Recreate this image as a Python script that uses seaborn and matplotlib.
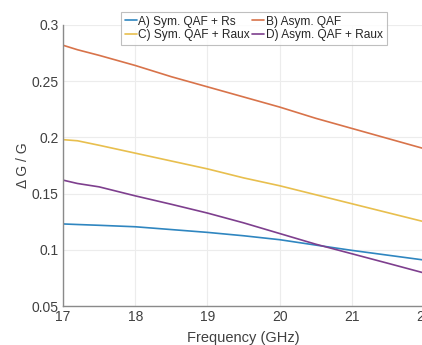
import pandas as pd
import matplotlib
matplotlib.use("Agg")
import matplotlib.pyplot as plt
import seaborn as sns

# ======================================
#           DATA
# ======================================
freq = [17, 17.2, 17.5, 18, 18.5, 19, 19.5, 20, 20.5, 21, 21.5, 22]

sym_rs = [0.123, 0.1225, 0.1218, 0.1205, 0.118, 0.1155, 0.1125, 0.109, 0.1042, 0.0995, 0.0952, 0.0909]
asym = [0.282, 0.278, 0.273, 0.264, 0.254, 0.245, 0.236, 0.227, 0.217, 0.208, 0.199, 0.190]
sym_raux = [0.198, 0.197, 0.193, 0.186, 0.179, 0.172, 0.164, 0.157, 0.149, 0.141, 0.133, 0.125]
asym_raux = [0.162, 0.159, 0.156, 0.148, 0.1405, 0.1327, 0.124, 0.1145, 0.105, 0.0965, 0.088, 0.0794]

labels = ["A) Sym. QAF + Rs", "B) Asym. QAF", "C) Sym. QAF + Raux", "D) Asym. QAF + Raux"]
colors = ["#2f86c0", "#d8734a", "#e8bf4e", "#7e3f8e"]

x_ticks = [17, 18, 19, 20, 21, 22]
y_ticks = [0.05, 0.1, 0.15, 0.2, 0.25, 0.3]

# ======================================
#           LONG FORM TABLE
# ======================================
rows = []
for name, vals in zip(labels, [sym_rs, asym, sym_raux, asym_raux]):
    for f, v in zip(freq, vals):
        rows.append({"Frequency": f, "dG": v, "Case": name})
df = pd.DataFrame(rows)

# ======================================
#           PLOT
# ======================================
sns.set_theme(style="whitegrid")
plt.rcParams["font.family"] = ["Liberation Sans", "DejaVu Sans"]

fig = plt.figure(figsize=(4.22, 3.45), dpi=100)
ax = fig.add_axes([63 / 422, 39 / 345, 361 / 422, 281 / 345])

sns.lineplot(data=df, x="Frequency", y="dG", hue="Case", hue_order=labels,
             palette=colors, linewidth=1.2, ax=ax, legend=False)

ax.set_xlim(17, 22)
ax.set_ylim(0.05, 0.3)
ax.set_xticks(x_ticks)
ax.set_xticklabels([str(t) for t in x_ticks])
ax.set_yticks(y_ticks)
ax.set_yticklabels(["0.05", "0.1", "0.15", "0.2", "0.25", "0.3"])
ax.tick_params(axis="both", direction="in", length=3, width=0.8, color="#808080",
               labelsize=10, labelcolor="#404040", pad=3)
ax.grid(True, color="#ececec", linewidth=0.8)
ax.set_facecolor("white")

for side in ["left", "bottom"]:
    ax.spines[side].set_visible(True)
    ax.spines[side].set_color("#8a8a8a")
    ax.spines[side].set_linewidth(1.0)
ax.spines["top"].set_visible(False)
ax.spines["right"].set_visible(False)

ax.set_xlabel("Frequency (GHz)", fontsize=10.5, color="#404040", labelpad=5)
ax.set_ylabel("\u0394 G / G", fontsize=10, color="#404040", labelpad=1)

# legend filled row by row: A B / C D
order = [0, 2, 1, 3]
handles = [plt.Line2D([], [], color=colors[i], linewidth=1.2) for i in order]
leg = fig.legend(handles, [labels[i] for i in order], loc="upper left",
                 bbox_to_anchor=(121 / 422, 1 - 12 / 345),
                 ncol=2, fontsize=8.6, frameon=True, fancybox=False, handlelength=1.0,
                 handletextpad=0.15, columnspacing=0.2, borderpad=0.3, labelspacing=0.15,
                 borderaxespad=0)
leg.get_frame().set_edgecolor("#b0b0b0")
leg.get_frame().set_linewidth(0.8)
for t in leg.get_texts():
    t.set_color("#262626")

fig.savefig("out.png", dpi=100)
